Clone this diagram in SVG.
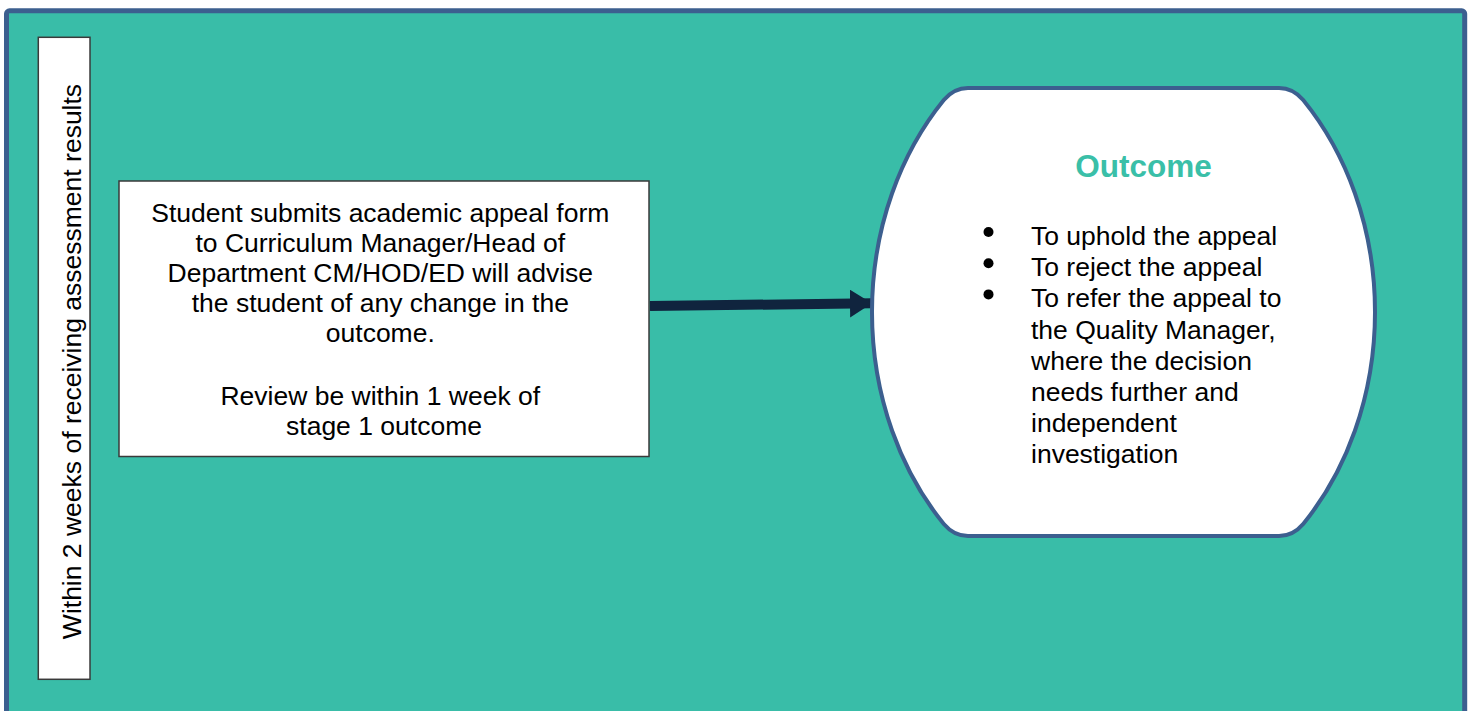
<svg xmlns="http://www.w3.org/2000/svg" width="1474" height="711" viewBox="0 0 1474 711">
<style>
  .t { font-family: "Liberation Sans", Arial, sans-serif; font-size: 26.5px; fill: #000; }
  .c { text-anchor: middle; }
  .h { font-family: "Liberation Sans", Arial, sans-serif; font-size: 31.5px; font-weight: bold; fill: #3ABFA8; text-anchor: middle; }
  .box { fill: #fff; stroke: #3a3a3a; stroke-width: 1.5; }
</style>
<defs>
  <marker id="ah" markerUnits="userSpaceOnUse" markerWidth="24" markerHeight="30" refX="22" refY="14" orient="auto">
    <polygon points="0,0 22,14 0,28" fill="#10243E"/>
  </marker>
</defs>
<rect x="0" y="0" width="1474" height="711" fill="#fff"/>
<g id="frame">
  <rect x="6.5" y="10.8" width="1458.2" height="720" rx="3" fill="#39BDA8" stroke="#3C5F8F" stroke-width="5"/>
</g>
<g id="timeline">
  <rect class="box" x="38.3" y="37.3" width="51.7" height="642"/>
  <text class="t c" transform="translate(81,361.5) rotate(-90)">Within 2 weeks of receiving assessment results</text>
</g>
<g id="submit">
  <rect class="box" x="119" y="181" width="530" height="275.5"/>
  <text class="t c">
    <tspan x="384" y="221.7">Student submits academic appeal form</tspan>
    <tspan x="384" y="251.7">to Curriculum Manager/Head of</tspan>
    <tspan x="384" y="281.7">Department CM/HOD/ED will advise</tspan>
    <tspan x="384" y="311.7">the student of any change in the</tspan>
    <tspan x="384" y="341.7">outcome.</tspan>
    <tspan x="384" y="405">Review be within 1 week of</tspan>
    <tspan x="384" y="435">stage 1 outcome</tspan>
  </text>
</g>
<g id="connectors">
  <line x1="650" y1="306" x2="872" y2="303.3" stroke="#10243E" stroke-width="10" marker-end="url(#ah)"/>
</g>
<g id="outcome">
  <path d="M 968,88 H 1279 Q 1293,88 1303.2,100 A 251.5 303 0 0 1 1303.2,524 Q 1293,536 1279,536 H 968 Q 954,536 943.8,524 A 251.5 303 0 0 1 943.8,100 Q 954,88 968,88 Z" fill="#fff" stroke="#3C5F8F" stroke-width="4"/>
  <text class="h" x="1143.5" y="177">Outcome</text>
  <g fill="#000">
    <circle cx="988.5" cy="232" r="5"/>
    <circle cx="988.5" cy="263.2" r="5"/>
    <circle cx="988.5" cy="294.4" r="5"/>
  </g>
  <text class="t">
    <tspan x="1031" y="245">To uphold the appeal</tspan>
    <tspan x="1031" y="276.2">To reject the appeal</tspan>
    <tspan x="1031" y="307.4">To refer the appeal to</tspan>
    <tspan x="1031" y="338.6">the Quality Manager,</tspan>
    <tspan x="1031" y="369.8">where the decision</tspan>
    <tspan x="1031" y="401">needs further and</tspan>
    <tspan x="1031" y="432.2">independent</tspan>
    <tspan x="1031" y="463.4">investigation</tspan>
  </text>
</g>
</svg>
